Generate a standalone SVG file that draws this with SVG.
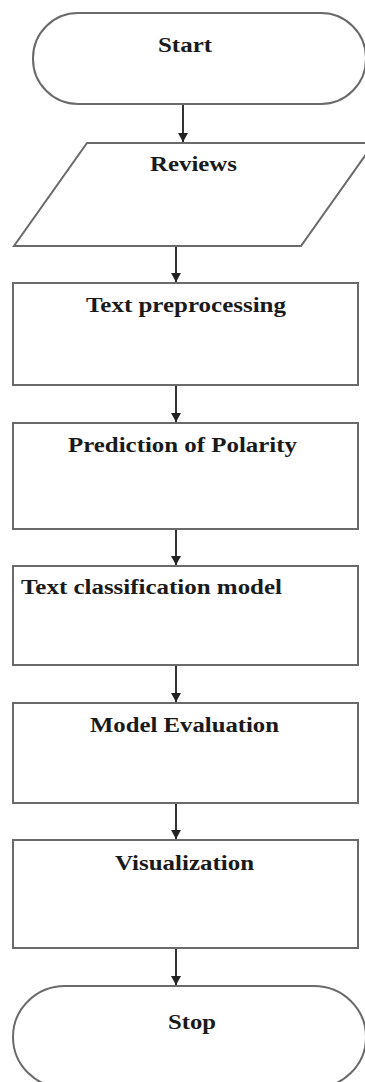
<svg xmlns="http://www.w3.org/2000/svg" width="365" height="1082" viewBox="0 0 365 1082">
<style>
.shape{fill:#fff;stroke:#6a6a6a;stroke-width:2}
.lbl{font-family:"Liberation Serif","Times New Roman",serif;font-weight:bold;font-size:20px;fill:#1a1a1a}
.conn{stroke:#333;stroke-width:2;fill:none}
</style>
<defs>
<marker id="ah" markerUnits="userSpaceOnUse" markerWidth="12" markerHeight="12" viewBox="0 0 12 12" refX="11" refY="6" orient="auto">
<path d="M2,1 L11,6 L2,11 Z" fill="#222"/>
</marker>
</defs>
<rect width="365" height="1082" fill="#fff"/>
<g id="connectors">
<line class="conn" x1="183" y1="104" x2="183" y2="142" marker-end="url(#ah)"/>
<line class="conn" x1="176" y1="246" x2="176" y2="282" marker-end="url(#ah)"/>
<line class="conn" x1="176" y1="385" x2="176" y2="422" marker-end="url(#ah)"/>
<line class="conn" x1="176" y1="529" x2="176" y2="565" marker-end="url(#ah)"/>
<line class="conn" x1="176" y1="665" x2="176" y2="702" marker-end="url(#ah)"/>
<line class="conn" x1="176" y1="803" x2="176" y2="839" marker-end="url(#ah)"/>
<line class="conn" x1="176" y1="948" x2="176" y2="985" marker-end="url(#ah)"/>
</g>
<g id="start">
<rect class="shape" x="33" y="13" width="333" height="91" rx="45" ry="45"/>
<text class="lbl" x="158" y="52" textLength="54" lengthAdjust="spacingAndGlyphs">Start</text>
</g>
<g id="reviews">
<polygon class="shape" points="87,143 374,143 301,246 14,246"/>
<text class="lbl" x="150" y="171" textLength="87" lengthAdjust="spacingAndGlyphs">Reviews</text>
</g>
<g id="preprocessing">
<rect class="shape" x="13" y="283" width="345" height="102"/>
<text class="lbl" x="86" y="312" textLength="200" lengthAdjust="spacingAndGlyphs">Text preprocessing</text>
</g>
<g id="polarity">
<rect class="shape" x="13" y="423" width="345" height="106"/>
<text class="lbl" x="68" y="452" textLength="229" lengthAdjust="spacingAndGlyphs">Prediction of Polarity</text>
</g>
<g id="classification">
<rect class="shape" x="13" y="566" width="345" height="99"/>
<text class="lbl" x="21" y="594" textLength="261" lengthAdjust="spacingAndGlyphs">Text classification model</text>
</g>
<g id="evaluation">
<rect class="shape" x="13" y="703" width="345" height="100"/>
<text class="lbl" x="90" y="732" textLength="189" lengthAdjust="spacingAndGlyphs">Model Evaluation</text>
</g>
<g id="visualization">
<rect class="shape" x="13" y="840" width="345" height="108"/>
<text class="lbl" x="115" y="870" textLength="139" lengthAdjust="spacingAndGlyphs">Visualization</text>
</g>
<g id="stop">
<rect class="shape" x="13" y="986" width="353" height="102" rx="52" ry="51"/>
<text class="lbl" x="168" y="1029" textLength="48" lengthAdjust="spacingAndGlyphs">Stop</text>
</g>
</svg>
